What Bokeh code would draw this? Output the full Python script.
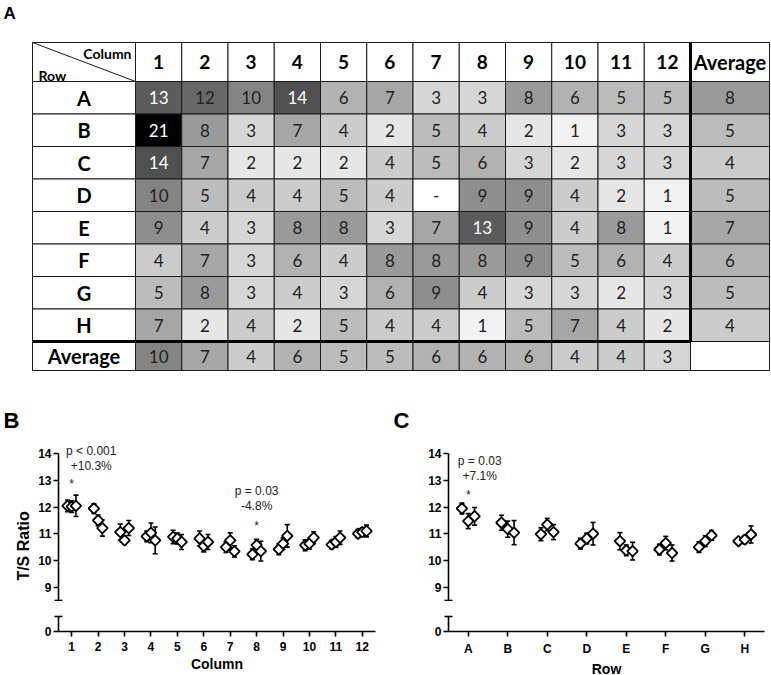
import math
from bokeh.plotting import figure
from bokeh.models import Range1d, FixedTicker
from bokeh.layouts import column, row
from bokeh.embed import file_html
from bokeh.resources import INLINE
from bokeh.core.properties import value

# ---------------- data: panel A (plate table) ----------------
ROW_LABELS = ["A", "B", "C", "D", "E", "F", "G", "H"]
COL_LABELS = ["1", "2", "3", "4", "5", "6", "7", "8", "9", "10", "11", "12"]
ROW_A = [13, 12, 10, 14, 6, 7, 3, 3, 8, 6, 5, 5]
ROW_B = [21, 8, 3, 7, 4, 2, 5, 4, 2, 1, 3, 3]
ROW_C = [14, 7, 2, 2, 2, 4, 5, 6, 3, 2, 3, 3]
ROW_D = [10, 5, 4, 4, 5, 4, None, 9, 9, 4, 2, 1]
ROW_E = [9, 4, 3, 8, 8, 3, 7, 13, 9, 4, 8, 1]
ROW_F = [4, 7, 3, 6, 4, 8, 8, 8, 9, 5, 6, 4]
ROW_G = [5, 8, 3, 4, 3, 6, 9, 4, 3, 3, 2, 3]
ROW_H = [7, 2, 4, 2, 5, 4, 4, 1, 5, 7, 4, 2]
PLATE = [ROW_A, ROW_B, ROW_C, ROW_D, ROW_E, ROW_F, ROW_G, ROW_H]
ROW_AVERAGE = [8, 5, 4, 5, 7, 6, 5, 4]
COL_AVERAGE = [10, 7, 4, 6, 5, 5, 6, 6, 6, 4, 4, 3]

# ---------------- data: panel B (by column, 3 runs) ----------------
B_TICKS = ["1", "2", "3", "4", "5", "6", "7", "8", "9", "10", "11", "12"]
B_RUN1 = [12.05, 11.95, 11.07, 10.91, 10.89, 10.83, 10.51, 10.24, 10.43, 10.58, 10.60, 11.01]
B_RUN2 = [12.02, 11.51, 10.76, 11.04, 10.83, 10.55, 10.76, 10.58, 10.64, 10.64, 10.70, 11.07]
B_RUN3 = [12.05, 11.22, 11.22, 10.76, 10.70, 10.70, 10.35, 10.36, 10.93, 10.86, 10.86, 11.11]
B_ERR1 = [0.22, 0.18, 0.30, 0.20, 0.25, 0.28, 0.20, 0.20, 0.20, 0.20, 0.15, 0.15]
B_ERR2 = [0.22, 0.20, 0.12, 0.37, 0.20, 0.22, 0.28, 0.22, 0.22, 0.20, 0.20, 0.15]
B_ERR3 = [0.40, 0.30, 0.28, 0.50, 0.28, 0.28, 0.21, 0.37, 0.42, 0.22, 0.25, 0.22]

# ---------------- data: panel C (by row, 3 runs) ----------------
C_TICKS = ["A", "B", "C", "D", "E", "F", "G", "H"]
C_RUN1 = [11.95, 11.42, 10.99, 10.64, 10.73, 10.42, 10.51, 10.73]
C_RUN2 = [11.48, 11.18, 11.35, 10.83, 10.39, 10.66, 10.73, 10.79]
C_RUN3 = [11.66, 11.05, 11.07, 11.01, 10.36, 10.29, 10.95, 10.98]
C_ERR1 = [0.20, 0.28, 0.24, 0.20, 0.32, 0.20, 0.20, 0.12]
C_ERR2 = [0.28, 0.30, 0.23, 0.20, 0.20, 0.25, 0.20, 0.15]
C_ERR3 = [0.33, 0.45, 0.28, 0.42, 0.33, 0.30, 0.18, 0.32]

# significance annotations: (tick index, p text, change text)
B_ANNOT = [(0, "p < 0.001", "+10.3%"), (7, "p = 0.03", "-4.8%")]
C_ANNOT = [(0, "p = 0.03", "+7.1%")]

# ---------------- style ----------------
GRAY_STOPS = [(1, 242), (2, 230), (3, 214), (4, 204), (5, 188), (6, 178), (7, 166),
              (8, 154), (9, 142), (10, 132), (12, 104), (13, 92), (14, 80), (21, 0)]


def gray(v):
    if v is None:
        return "#ffffff"
    for (a, ga), (b, gb) in zip(GRAY_STOPS, GRAY_STOPS[1:]):
        if a <= v <= b:
            g = int(round(ga + (gb - ga) * (v - a) / (b - a)))
            return "#%02x%02x%02x" % (g, g, g)
    return "#ffffff"


TFONT = value("Lato")
AFONT = "Liberation Sans"

# ---------------- panel A: table (pixel-space figure, also holds panel letters) ----------------
TW, TH = 771, 436
X0, Y0 = 32, 42
LAB_W, COL_W, AVG_W = 103, 46.25, 79
HEAD_H, ROW_H, AVG_H = 39, 32.5, 29

pt = figure(width=TW, height=TH, x_range=Range1d(0, TW), y_range=Range1d(TH, 0),
            x_axis_location=None, y_axis_location=None, toolbar_location=None,
            output_backend="svg", min_border_left=0, min_border_right=0,
            min_border_top=0, min_border_bottom=0, outline_line_color=None)
pt.grid.visible = False

nC, nR = len(COL_LABELS), len(ROW_LABELS)
col_left = [X0 + LAB_W + j * COL_W for j in range(nC)]
avg_left = X0 + LAB_W + nC * COL_W
row_top = [Y0 + HEAD_H + i * ROW_H for i in range(nR)]
avg_top = Y0 + HEAD_H + nR * ROW_H

L, R, T, B, F = [], [], [], [], []


def cell(l, r, t, b, f):
    L.append(l); R.append(r); T.append(t); B.append(b); F.append(f)


cell(X0, X0 + LAB_W, Y0, Y0 + HEAD_H, "#ffffff")
for j in range(nC):
    cell(col_left[j], col_left[j] + COL_W, Y0, Y0 + HEAD_H, "#ffffff")
cell(avg_left, avg_left + AVG_W, Y0, Y0 + HEAD_H, "#ffffff")
for i in range(nR):
    cell(X0, X0 + LAB_W, row_top[i], row_top[i] + ROW_H, "#ffffff")
    for j in range(nC):
        cell(col_left[j], col_left[j] + COL_W, row_top[i], row_top[i] + ROW_H, gray(PLATE[i][j]))
    cell(avg_left, avg_left + AVG_W, row_top[i], row_top[i] + ROW_H, gray(ROW_AVERAGE[i]))
cell(X0, X0 + LAB_W, avg_top, avg_top + AVG_H, "#ffffff")
for j in range(nC):
    cell(col_left[j], col_left[j] + COL_W, avg_top, avg_top + AVG_H, gray(COL_AVERAGE[j]))
cell(avg_left, avg_left + AVG_W, avg_top, avg_top + AVG_H, "#ffffff")

pt.quad(left=L, right=R, top=T, bottom=B, fill_color=F, line_color="#1a1a1a", line_width=1)
pt.line(x=[X0, X0 + LAB_W], y=[Y0, Y0 + HEAD_H], line_color="#1a1a1a", line_width=1)
pt.line(x=[avg_left, avg_left], y=[Y0, avg_top], line_color="black", line_width=3)
pt.line(x=[X0, avg_left], y=[avg_top, avg_top], line_color="black", line_width=3)

# header texts
pt.text(x=[c + COL_W / 2 for c in col_left], y=[Y0 + HEAD_H / 2] * nC, text=COL_LABELS,
        text_font=TFONT, text_font_style="bold", text_font_size="19px",
        text_align="center", text_baseline="middle", text_color="black")
pt.text(x=[avg_left + AVG_W / 2, X0 + LAB_W / 2], y=[Y0 + HEAD_H / 2, avg_top + AVG_H / 2],
        text=["Average", "Average"], text_font=TFONT, text_font_style="bold",
        text_font_size="20px", text_align="center", text_baseline="middle", text_color="black")
pt.text(x=[X0 + LAB_W / 2] * nR, y=[t + ROW_H / 2 for t in row_top], text=ROW_LABELS,
        text_font=TFONT, text_font_style="bold", text_font_size="20px",
        text_align="center", text_baseline="middle", text_color="black")
pt.text(x=[X0 + LAB_W - 4], y=[Y0 + 11], text=["Column"], text_font=TFONT,
        text_font_style="bold", text_font_size="14px", text_align="right",
        text_baseline="middle", text_color="black")
pt.text(x=[X0 + 6], y=[Y0 + 33], text=["Row"], text_font=TFONT,
        text_font_style="bold", text_font_size="14px", text_align="left",
        text_baseline="middle", text_color="black")

# cell values
vx, vy, vt, vc = [], [], [], []
for i in range(nR):
    for j in range(nC):
        v = PLATE[i][j]
        vx.append(col_left[j] + COL_W / 2); vy.append(row_top[i] + ROW_H / 2)
        vt.append("-" if v is None else str(v))
        vc.append("white" if (v is not None and v >= 13) else "#222222")
    vx.append(avg_left + AVG_W / 2); vy.append(row_top[i] + ROW_H / 2)
    vt.append(str(ROW_AVERAGE[i])); vc.append("#222222")
for j in range(nC):
    vx.append(col_left[j] + COL_W / 2); vy.append(avg_top + AVG_H / 2)
    vt.append(str(COL_AVERAGE[j])); vc.append("#222222")
pt.text(x=vx, y=vy, text=vt, text_color=vc, text_font=TFONT, text_font_size="17px",
        text_align="center", text_baseline="middle")

# panel letters
pt.text(x=[3], y=[13], text=["A"], text_font=value(AFONT), text_font_style="bold",
        text_font_size="17px", text_align="left", text_baseline="middle", text_color="black")
pt.text(x=[3, 393], y=[420, 420], text=["B", "C"], text_font=value(AFONT),
        text_font_style="bold", text_font_size="22px", text_align="left",
        text_baseline="middle", text_color="black")


# ---------------- panels B and C ----------------
def style_axis(ax):
    ax.axis_line_width = 1.6
    ax.axis_line_color = "black"
    ax.major_tick_line_width = 1.6
    ax.major_tick_line_color = "black"
    ax.minor_tick_line_width = 1.6
    ax.minor_tick_line_color = "black"
    ax.major_tick_out = 5
    ax.major_tick_in = 0
    ax.minor_tick_out = 4
    ax.minor_tick_in = 4
    ax.major_label_text_font = AFONT
    ax.major_label_text_font_style = "bold"
    ax.major_label_text_font_size = "12px"
    ax.major_label_text_color = "black"
    ax.major_label_standoff = 2


def make_panel(ticks, runs, errs, offsets, annots, annot_pos, ylabel, frame_w, b_left,
               b_right, xlabel):
    n = len(ticks)
    pos = list(range(1, n + 1))
    xr = Range1d(0.5, n + 0.5)
    up = figure(x_range=xr, y_range=Range1d(8.48, 14.45), frame_width=frame_w, frame_height=160,
                min_border_left=b_left, min_border_right=b_right, min_border_top=5,
                min_border_bottom=0, x_axis_location=None, toolbar_location=None,
                output_backend="svg", outline_line_color=None)
    up.grid.visible = False
    ya = up.yaxis[0]
    ya.ticker = FixedTicker(ticks=[9, 10, 11, 12, 13, 14], minor_ticks=[8.5])
    ya.bounds = (8.5, 14)
    style_axis(ya)
    if ylabel:
        # trailing no-break spaces centre the visible label on the whole broken axis
        ya.axis_label = ylabel + "\u00a0" * 11
        ya.axis_label_text_font = AFONT
        ya.axis_label_text_font_style = "bold"
        ya.axis_label_text_font_size = "16px"
        ya.axis_label_text_color = "black"
        ya.axis_label_standoff = 3

    for run, err, off in zip(runs, errs, offsets):
        xs = [p + off for p in pos]
        lo_ = [m - e for m, e in zip(run, err)]
        hi_ = [m + e for m, e in zip(run, err)]
        up.segment(x0=xs, y0=lo_, x1=xs, y1=hi_, line_color="black", line_width=1.6)
        up.scatter(x=xs + xs, y=lo_ + hi_, marker="dash", size=5, line_color="black", line_width=1.6)
    for run, off in zip(runs, offsets):
        xs = [p + off for p in pos]
        up.scatter(x=xs, y=run, marker="square", angle=math.pi / 4, size=7.5,
                   fill_color="white", line_color="black", line_width=1.8)

    for (k, ptxt, ctxt), (dx, yp, yc, ys) in zip(annots, annot_pos):
        up.text(x=[pos[k] + dx, pos[k] + dx], y=[yp, yc], text=[ptxt, ctxt],
                text_font=value(AFONT), text_font_size="12px", text_align="center",
                text_baseline="middle", text_color="#222222")
        up.text(x=[pos[k]], y=[ys], text=["*"], text_font=value(AFONT), text_font_size="12px",
                text_align="center", text_baseline="alphabetic", text_color="#222222")

    lo = figure(x_range=xr, y_range=Range1d(0, 0.6), frame_width=frame_w, frame_height=16,
                min_border_left=b_left, min_border_right=b_right, min_border_top=14,
                min_border_bottom=0, toolbar_location=None, output_backend="svg",
                outline_line_color=None)
    lo.grid.visible = False
    ly = lo.yaxis[0]
    ly.ticker = FixedTicker(ticks=[0], minor_ticks=[0.58])
    ly.bounds = (0, 0.58)
    style_axis(ly)
    lx = lo.xaxis[0]
    lx.ticker = FixedTicker(ticks=pos, minor_ticks=[])
    lx.major_label_overrides = {p: t for p, t in zip(pos, ticks)}
    style_axis(lx)
    lx.major_label_standoff = 5
    lx.axis_label = xlabel
    lx.axis_label_text_font = AFONT
    lx.axis_label_text_font_style = "bold"
    lx.axis_label_text_font_size = "14px"
    lx.axis_label_text_color = "black"
    lx.axis_label_standoff = 2
    return column(up, lo)


panel_b = make_panel(B_TICKS, [B_RUN1, B_RUN2, B_RUN3], [B_ERR1, B_ERR2, B_ERR3],
                     [-0.16, 0.0, 0.16], B_ANNOT,
                     [(0.74, 14.10, 13.54, 12.87), (0.0, 12.59, 12.04, 11.29)],
                     "T/S Ratio", 317, 58, 5, "Column")
panel_c = make_panel(C_TICKS, [C_RUN1, C_RUN2, C_RUN3], [C_ERR1, C_ERR2, C_ERR3],
                     [-0.16, 0.0, 0.16], C_ANNOT,
                     [(0.29, 13.71, 13.15, 12.44)],
                     None, 316, 68, 7, "Row")

layout = column(pt, row(panel_b, panel_c))
open("out.html", "w").write(file_html(layout, INLINE))
